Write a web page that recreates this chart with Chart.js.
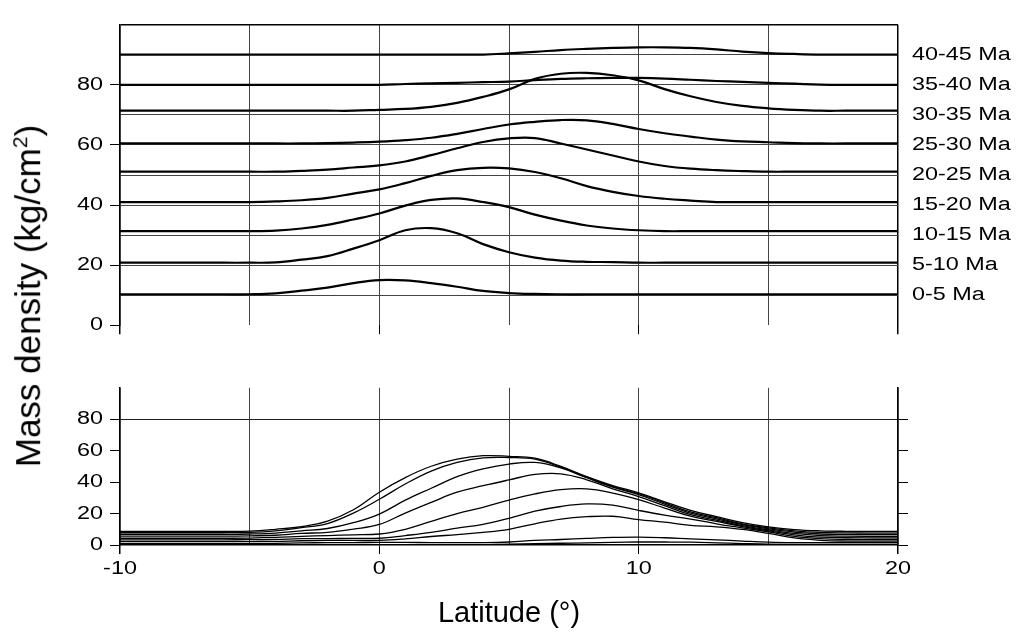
<!DOCTYPE html>
<html>
<head>
<meta charset="utf-8">
<title>Mass density by latitude</title>
<script src="https://cdn.jsdelivr.net/npm/chart.js@4.4.1/dist/chart.umd.min.js"></script>
<style>
  body { margin: 0; background: #fff; }
  #page { position: relative; width: 1021px; height: 636px; font-family: "Liberation Sans", Arial, sans-serif; color: #000; }
  #topChart { position: absolute; left: 0; top: 0; }
  #bottomChart { position: absolute; left: 0; top: 370px; }
  .axisTitle { position: absolute; white-space: nowrap; line-height: 1; }
  #yTitle { left: 27px; top: 296px; font-size: 35px; transform: translate(-50%, -50%) rotate(-90deg); }
  #xTitle { left: 509px; top: 612px; font-size: 29px; transform: translate(-50%, -50%); }
  sup { font-size: 0.6em; }
</style>
</head>
<body>
<div id="page">
  <canvas id="topChart" width="1021" height="350"></canvas>
  <canvas id="bottomChart" width="1021" height="266"></canvas>
  <div class="axisTitle" id="yTitle">Mass density (kg/cm<sup>2</sup>)</div>
  <div class="axisTitle" id="xTitle">Latitude (°)</div>
</div>

<script>
// ---------- //
//  DATA      //
// ---------- //

var latitudes = [-10, -9, -8, -7, -6, -5, -4, -3, -2, -1, 0, 1, 2, 3, 4, 5,
                 6, 7, 8, 9, 10, 11, 12, 13, 14, 15, 16, 17, 18, 19, 20];

var periodLabels = ["0-5 Ma", "5-10 Ma", "10-15 Ma", "15-20 Ma", "20-25 Ma",
                    "25-30 Ma", "30-35 Ma", "35-40 Ma", "40-45 Ma"];

// Top panel: one curve per period, each drawn on its own raised baseline
var period0to5   = [10.3, 10.3, 10.3, 10.3, 10.3, 10.3, 10.6, 11.5, 12.5, 14.0, 15.0, 14.9, 14.0, 12.8, 11.4, 10.7,
                    10.4, 10.3, 10.3, 10.3, 10.3, 10.3, 10.3, 10.3, 10.3, 10.3, 10.3, 10.3, 10.3, 10.3, 10.3];
var period5to10  = [20.8, 20.8, 20.8, 20.8, 20.8, 20.8, 20.9, 21.8, 23.0, 25.5, 28.3, 31.6, 32.3, 30.6, 27.0, 24.3,
                    22.5, 21.5, 21.1, 21.0, 20.8, 20.8, 20.8, 20.8, 20.8, 20.8, 20.8, 20.8, 20.8, 20.8, 20.8];
var period10to15 = [31.3, 31.3, 31.3, 31.3, 31.3, 31.3, 31.5, 32.2, 33.4, 35.2, 37.2, 39.8, 41.7, 42.2, 41.0, 39.3,
                    36.8, 34.8, 33.2, 32.2, 31.6, 31.3, 31.3, 31.3, 31.3, 31.3, 31.3, 31.3, 31.3, 31.3, 31.3];
var period15to20 = [41.0, 41.0, 41.0, 41.0, 41.0, 41.0, 41.2, 41.6, 42.4, 43.8, 45.2, 47.3, 49.7, 51.6, 52.4, 52.2,
                    51.0, 48.9, 46.3, 44.4, 43.0, 42.1, 41.5, 41.0, 41.0, 41.0, 41.0, 41.0, 41.0, 41.0, 41.0];
var period20to25 = [51.1, 51.1, 51.1, 51.1, 51.1, 51.1, 51.1, 51.4, 51.8, 52.5, 53.2, 54.5, 56.6, 58.9, 61.0, 62.2,
                    62.3, 60.5, 58.5, 56.5, 54.5, 53.0, 52.1, 51.6, 51.3, 51.1, 51.1, 51.1, 51.1, 51.1, 51.1];
var period25to30 = [60.5, 60.5, 60.5, 60.5, 60.5, 60.5, 60.5, 60.5, 60.6, 60.8, 61.1, 61.6, 62.4, 63.7, 65.3, 66.8,
                    67.7, 68.3, 68.2, 67.0, 65.3, 63.9, 62.8, 61.8, 61.2, 60.9, 60.6, 60.5, 60.5, 60.5, 60.5];
var period30to35 = [71.4, 71.4, 71.4, 71.4, 71.4, 71.4, 71.4, 71.4, 71.4, 71.4, 71.7, 72.0, 72.7, 74.0, 76.0, 78.5,
                    82.0, 83.7, 84.0, 83.2, 81.5, 78.6, 76.2, 74.3, 73.0, 72.2, 71.7, 71.4, 71.4, 71.4, 71.4];
var period35to40 = [80.0, 80.0, 80.0, 80.0, 80.0, 80.0, 80.0, 80.0, 80.0, 80.0, 80.0, 80.3, 80.5, 80.7, 80.9, 81.1,
                    81.6, 82.0, 82.2, 82.3, 82.3, 82.1, 81.7, 81.3, 81.0, 80.7, 80.4, 80.1, 80.0, 80.0, 80.0];
var period40to45 = [90.1, 90.1, 90.1, 90.1, 90.1, 90.1, 90.1, 90.1, 90.1, 90.1, 90.1, 90.1, 90.1, 90.1, 90.1, 90.5,
                    91.0, 91.6, 92.0, 92.3, 92.5, 92.5, 92.3, 91.8, 91.1, 90.6, 90.3, 90.1, 90.1, 90.1, 90.1];

var periodSeries = [period0to5, period5to10, period10to15, period15to20, period20to25,
                    period25to30, period30to35, period35to40, period40to45];

// Bottom panel: accumulated density, thin lines
var total0to5   = [0.2, 0.2, 0.2, 0.2, 0.2, 0.2, 0.2, 0.2, 0.2, 0.2, 0.2, 0.2, 0.2, 0.2, 0.2, 0.5,
                   0.8, 1.1, 1.4, 1.7, 1.9, 1.9, 1.8, 1.4, 0.9, 0.5, 0.4, 0.4, 0.4, 0.4, 0.4];
var total0to10  = [0.8, 0.8, 0.8, 0.8, 0.8, 0.8, 1.0, 1.3, 1.5, 1.5, 1.7, 1.7, 1.5, 1.5, 1.5, 1.9,
                   2.9, 3.5, 4.2, 4.8, 5.0, 4.6, 3.9, 3.3, 2.5, 1.8, 1.5, 1.5, 1.5, 1.5, 1.5];
var total0to15  = [2.1, 2.1, 2.1, 2.1, 2.1, 2.2, 2.3, 2.7, 2.9, 2.9, 2.9, 3.9, 5.4, 6.6, 8.0, 10.0,
                   13.5, 16.5, 18.0, 18.3, 16.2, 14.5, 12.5, 11.5, 9.9, 7.4, 4.5, 3.0, 2.5, 2.5, 2.5];
var total0to20  = [3.3, 3.3, 3.3, 3.3, 3.3, 3.4, 3.6, 4.0, 4.1, 4.2, 4.3, 6.0, 8.0, 10.7, 13.1, 17.0,
                   21.5, 24.5, 26.1, 25.3, 22.0, 19.0, 16.5, 13.5, 10.9, 8.4, 5.5, 4.0, 3.5, 3.5, 3.5];
var total0to25  = [4.3, 4.3, 4.3, 4.3, 4.3, 4.4, 4.8, 5.5, 6.0, 6.5, 7.0, 10.0, 15.0, 20.0, 24.0, 28.5,
                   32.5, 35.2, 35.7, 33.0, 28.8, 23.5, 18.3, 15.0, 11.7, 9.0, 6.5, 5.0, 4.6, 4.5, 4.5];
var total0to30  = [5.6, 5.6, 5.6, 5.6, 5.6, 5.8, 6.2, 7.4, 8.0, 10.1, 13.1, 20.3, 27.1, 33.6, 37.7, 41.4,
                   44.9, 45.3, 41.5, 35.7, 30.8, 25.0, 19.3, 15.8, 12.3, 9.6, 7.4, 6.0, 5.6, 5.5, 5.5];
var total0to35  = [6.8, 6.8, 6.8, 6.8, 6.8, 7.0, 7.6, 9.0, 10.5, 14.2, 19.7, 28.5, 36.1, 43.5, 48.4, 51.5,
                   52.5, 49.0, 42.8, 36.8, 32.0, 26.0, 20.2, 16.6, 12.9, 10.3, 8.2, 7.0, 6.7, 6.6, 6.6];
var total0to40  = [7.8, 7.8, 7.8, 7.8, 7.8, 8.0, 9.0, 11.0, 13.6, 20.3, 29.1, 38.8, 47.0, 52.5, 55.4, 55.6,
                   54.6, 49.5, 43.0, 37.2, 32.6, 26.8, 21.0, 17.4, 13.5, 10.9, 9.0, 8.0, 7.7, 7.6, 7.6];
var total0to45  = [8.6, 8.6, 8.6, 8.6, 8.6, 8.8, 10.0, 11.7, 15.2, 22.4, 33.6, 42.9, 50.1, 54.6, 56.8, 56.4,
                   55.2, 50.0, 43.5, 37.8, 33.2, 27.5, 22.0, 18.0, 14.2, 11.5, 9.8, 9.0, 8.7, 8.6, 8.6];

var totalSeries = [total0to5, total0to10, total0to15, total0to20, total0to25,
                   total0to30, total0to35, total0to40, total0to45];


// ------------------ //
//  HELPER FUNCTIONS  //
// ------------------ //

var TEXT_STRETCH = 1.3;   // tick labels in the reference are drawn wide
var TICK_FONT = { family: "'Liberation Sans', Arial, sans-serif", size: 18 };
var GRID_GRAY = "#444";

// Pairs each value with its latitude for a linear x axis
function toPoints(values)
{
  return latitudes.map(function (lat, i) { return { x: lat, y: values[i] }; });
}

// Stretches every label the chart writes sideways, anchored where Chart.js puts it
var wideTextPlugin = {
  id: "wideText",
  beforeDraw: function (chart) {
    var ctx = chart.ctx;
    if (ctx._wideText) return;
    ctx._wideText = true;
    var fillText = ctx.fillText;
    ctx.fillText = function (text, x, y, maxWidth) {
      this.save();
      this.translate(x, y);
      this.scale(TEXT_STRETCH, 1);
      if (maxWidth === undefined) fillText.call(this, text, 0, 0);
      else fillText.call(this, text, 0, 0, maxWidth / TEXT_STRETCH);
      this.restore();
    };
  }
};

// Latitude axis: grid every 5 degrees, tick marks only every 10, frame at both ends
function latitudeAxis(extra)
{
  var axis = {
    type: "linear",
    min: -10,
    max: 20,
    ticks: { stepSize: 5, font: TICK_FONT, color: "#000", maxRotation: 0 },
    grid: {
      color: function (c) { return (c.tick.value === -10 || c.tick.value === 20) ? "#000" : GRID_GRAY; },
      lineWidth: function (c) { return (c.tick.value === -10 || c.tick.value === 20) ? 1.5 : 1; },
      tickColor: function (c) { return c.tick.value % 10 === 0 ? "#000" : "rgba(0,0,0,0)"; },
      tickLength: 9
    },
    border: { display: false }
  };
  return Object.assign(axis, extra);
}

function lineDataset(label, values, width)
{
  return {
    label: label,
    data: toPoints(values),
    borderColor: "#000",
    borderWidth: width,
    pointRadius: 0,
    tension: 0.4,
    fill: false
  };
}


// ----------- //
//  TOP PANEL  //
// ----------- //

new Chart(document.getElementById("topChart"), {
  type: "line",
  data: {
    datasets: periodSeries.map(function (values, i) { return lineDataset(periodLabels[i], values, 2.2); })
  },
  options: {
    responsive: false,
    animation: false,
    layout: { padding: { top: 8 } },
    plugins: { legend: { display: false }, tooltip: { enabled: false } },
    scales: {
      x: latitudeAxis({
        ticks: { stepSize: 5, display: false },
        afterFit: function (scale) { scale.height = 18; }
      }),
      y: {
        min: 0,
        max: 100,
        ticks: {
          stepSize: 10,
          font: TICK_FONT,
          color: "#000",
          padding: 7,
          callback: function (v) { return (v % 20 === 0 && v < 100) ? v : ""; }
        },
        grid: {
          color: function (c) {
            if (c.tick.value === 0) return "rgba(0,0,0,0)";
            return c.tick.value === 100 ? "#000" : GRID_GRAY;
          },
          lineWidth: function (c) { return c.tick.value === 100 ? 1.5 : 1; },
          tickColor: function (c) { return (c.tick.value % 20 === 0 && c.tick.value < 100) ? "#000" : "rgba(0,0,0,0)"; },
          tickLength: 10
        },
        border: { color: "#000", width: 1.5 },
        afterFit: function (scale) { scale.width = 120; }
      },
      labels: {
        position: "right",
        min: 0,
        max: 100,
        ticks: {
          stepSize: 10,
          font: TICK_FONT,
          color: "#000",
          padding: 14,
          callback: function (v) { return (v >= 10 && v <= 90) ? periodLabels[v / 10 - 1] : ""; }
        },
        grid: { drawOnChartArea: false, drawTicks: false },
        border: { display: false },
        afterFit: function (scale) { scale.width = 123; }
      }
    }
  },
  plugins: [wideTextPlugin]
});


// -------------- //
//  BOTTOM PANEL  //
// -------------- //

new Chart(document.getElementById("bottomChart"), {
  type: "line",
  data: {
    datasets: totalSeries.map(function (values, i) { return lineDataset("0-" + periodLabels[i].split("-")[1], values, 1.3); })
  },
  options: {
    responsive: false,
    animation: false,
    layout: { padding: { top: 13 } },
    plugins: { legend: { display: false }, tooltip: { enabled: false } },
    scales: {
      x: latitudeAxis({
        ticks: {
          stepSize: 5,
          font: TICK_FONT,
          color: "#000",
          maxRotation: 0,
          padding: 4,
          callback: function (v) { return v % 10 === 0 ? v : ""; }
        },
        border: { color: "#000", width: 1.5 },
        afterFit: function (scale) { scale.height = 91; }
      }),
      y: {
        min: 0,
        max: 100,
        ticks: {
          stepSize: 20,
          font: TICK_FONT,
          color: "#000",
          padding: 7,
          callback: function (v) { return v < 100 ? v : ""; }
        },
        grid: {
          color: function (c) { return c.tick.value === 80 ? "#222" : "rgba(0,0,0,0)"; },
          tickColor: function (c) { return c.tick.value < 100 ? "#000" : "rgba(0,0,0,0)"; },
          tickLength: 10
        },
        border: { color: "#000", width: 1.5 },
        afterFit: function (scale) { scale.width = 120; }
      },
      yRight: {
        position: "right",
        min: 0,
        max: 100,
        ticks: { stepSize: 20, callback: function () { return ""; } },
        grid: {
          drawOnChartArea: false,
          tickColor: function (c) { return c.tick.value < 100 ? "#000" : "rgba(0,0,0,0)"; },
          tickLength: 10
        },
        border: { color: "#000", width: 1.5 },
        afterFit: function (scale) { scale.width = 123; }
      }
    }
  },
  plugins: [wideTextPlugin]
});
</script>
</body>
</html>
